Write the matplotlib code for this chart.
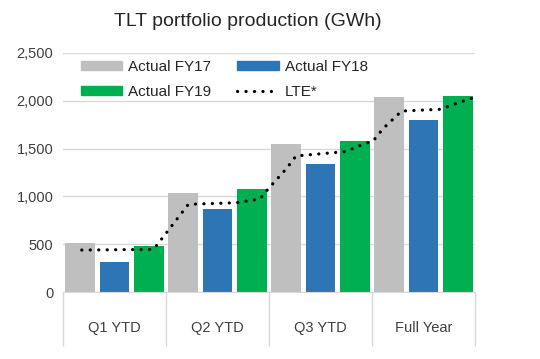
import numpy as np
import matplotlib
matplotlib.use("Agg")
import matplotlib.pyplot as plt
from matplotlib.lines import Line2D
from matplotlib.patches import Patch

plt.rcParams['font.family'] = ['Liberation Sans', 'DejaVu Sans']

# data (GWh)
categories = ['Q1 YTD', 'Q2 YTD', 'Q3 YTD', 'Full Year']
fy17 = [516, 1032, 1545, 2043]
fy18 = [317, 871, 1336, 1799]
fy19 = [481, 1074, 1583, 2050]

# LTE* curve, positions in category units (Q1 centre = 0)
lte_x = [-0.318, 0.345, 0.386, 0.43, 0.717, 1.186, 1.413, 1.461, 1.526,
         1.672, 1.762, 2.238, 2.383, 2.513, 2.61, 2.788, 3.16, 3.306, 3.468]
lte_y = [439, 445, 455, 516, 917, 934, 973, 1039, 1119,
         1294, 1423, 1468, 1531, 1583, 1712, 1893, 1911, 1967, 2026]

c17 = '#BFBFBF'
c18 = '#2E75B6'
c19 = '#00B050'
grid_c = '#D9D9D9'
txt_c = '#404040'

fig = plt.figure(figsize=(5.4, 3.59), dpi=100)
ax = fig.add_axes([63 / 540, 1 - 292 / 359, 412 / 540, 239 / 359])

x = np.arange(len(categories))
w = 0.29
off = 0.333
ax.bar(x - off, fy17, w, color=c17, zorder=2)
ax.bar(x, fy18, w, color=c18, zorder=2)
ax.bar(x + off, fy19, w, color=c19, zorder=2)
ax.plot(lte_x, lte_y, color='black', lw=2.3, linestyle=(0, (0.05, 2.6)),
        dash_capstyle='round', solid_capstyle='round', zorder=3)

ax.set_xlim(-0.5, len(categories) - 0.5)
ax.set_ylim(0, 2500)
ax.set_yticks(np.arange(0, 2501, 500))
ax.set_yticklabels([f'{v:,}' for v in range(0, 2501, 500)])
ax.yaxis.grid(True, color=grid_c, lw=1, zorder=0)
ax.tick_params(axis='y', length=0, pad=7, labelsize=10.5, labelcolor=txt_c)

# category separators going down below the axis, labels in between
ax.set_xticks(np.arange(-0.5, len(categories)))
ax.set_xticklabels([])
ax.tick_params(axis='x', which='major', direction='out', length=39,
               color=grid_c, width=1)
ax.set_xticks(x, minor=True)
ax.set_xticklabels(categories, minor=True)
ax.tick_params(axis='x', which='minor', length=0, pad=21, labelsize=10.5,
               labelcolor=txt_c)

for s in ['top', 'right', 'left']:
    ax.spines[s].set_visible(False)
ax.spines['bottom'].set_color(grid_c)

fig.text(247.5 / 540, 1 - 21 / 359, 'TLT portfolio production (GWh)',
         ha='center', va='center', fontsize=14, color='#262626')

handles = [Patch(color=c17, label='Actual FY17'),
           Patch(color=c19, label='Actual FY19'),
           Patch(color=c18, label='Actual FY18'),
           Line2D([], [], color='black', lw=2.3, linestyle=(0, (0.05, 2.6)),
                  dash_capstyle='round', label='LTE*')]
fig.legend(handles=handles, ncol=2, loc='center',
           bbox_to_anchor=(224.5 / 540, 1 - 79.4 / 359), frameon=False,
           fontsize=11, handlelength=2.7, handleheight=0.5,
           handletextpad=0.4, columnspacing=1.7, labelspacing=0.75,
           borderpad=0, labelcolor='#262626')

fig.savefig('out.png', dpi=100)
